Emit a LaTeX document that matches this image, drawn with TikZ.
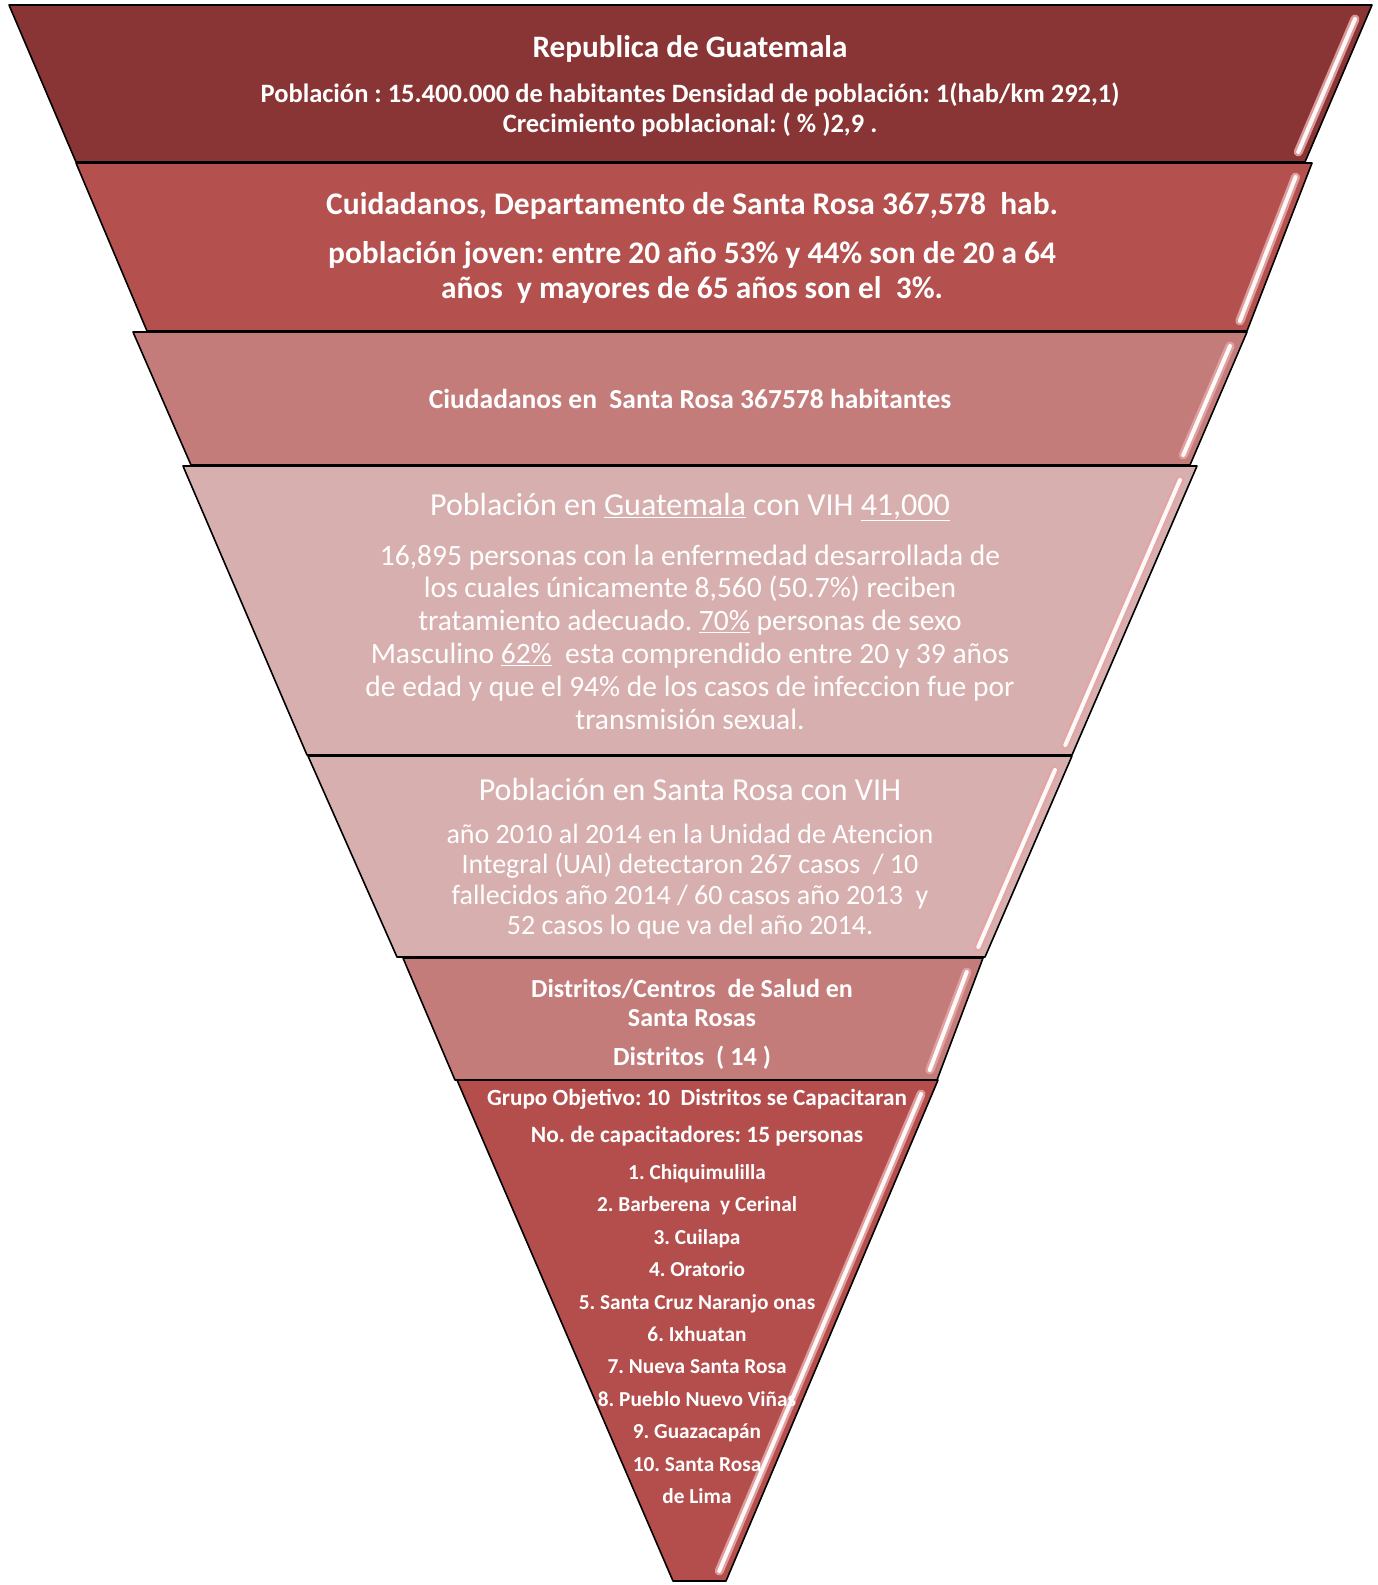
\documentclass[tikz,border=0pt]{standalone}
\usepackage{fontspec}
\setmainfont{Carlito}
\usetikzlibrary{calc}
\definecolor{layA}{HTML}{8A3535}
\definecolor{layB}{HTML}{B4504E}
\definecolor{layC}{HTML}{C47C7B}
\definecolor{layD}{HTML}{D8AFAF}
\definecolor{layF}{HTML}{C47C7B}
\definecolor{layG}{HTML}{B34E4D}
\definecolor{bevelpink}{HTML}{E5A4A4}
\newcommand\ulx[1]{\underline{#1}}
\newcommand\bevel[4]{%
  \pgfmathsetmacro\bvA{14/(#4-#2)}%
  \pgfmathsetmacro\bvB{1-10/(#4-#2)}%
  \draw[bevelout] ($(#1,#2)!\bvA!(#3,#4)+(-11,0)$) -- ($(#1,#2)!\bvB!(#3,#4)+(-11,0)$);
  \draw[bevelin] ($(#1,#2)!\bvA!(#3,#4)+(-11,0)$) -- ($(#1,#2)!\bvB!(#3,#4)+(-11,0)$);
}
\tikzset{
  layer/.style={draw=black, line width=1.6pt, line join=round},
  bevelout/.style={line width=9pt, line cap=round, bevelpink, opacity=0.9},
  bevelin/.style={line width=4pt, line cap=round, white, opacity=0.95},
  txt/.style={text=white, align=center, inner sep=0pt},
}
\frenchspacing
\begin{document}
\frenchspacing
\begin{tikzpicture}[x=1pt,y=-1pt]
\useasboundingbox (0,0) rectangle (1378,1585);
% layers
\draw[layer, fill=layA] (9,5) -- (1372,5) -- (1305,162) -- (76,162) -- cycle;
\bevel{1372}{5}{1305}{162}
\draw[layer, fill=layB] (76,163) -- (1312,163) -- (1247,331) -- (147,331) -- cycle;
\bevel{1312}{163}{1247}{331}
\draw[layer, fill=layC] (133,332) -- (1247,332) -- (1190,465) -- (191,465) -- cycle;
\bevel{1247}{332}{1190}{465}
\draw[layer, fill=layD] (183,466) -- (1197,466) -- (1072,755) -- (307,755) -- cycle;
\bevel{1197}{466}{1072}{755}
\draw[layer, fill=layD] (308,756) -- (1072,756) -- (985,957) -- (397,957) -- cycle;
\bevel{1072}{756}{985}{957}
\draw[layer, fill=layF] (403,958) -- (983,958) -- (937,1080) -- (455,1080) -- cycle;
\bevel{983}{958}{937}{1080}
\draw[layer, fill=layG] (457,1080) -- (938,1080) -- (726,1581) -- (673,1581) -- cycle;
\bevel{938}{1080}{726}{1581}
% texts
\node[txt, font=\bfseries\fontsize{31.2}{36}\selectfont] (t1a) at (690,49) {Republica de Guatemala};
\node[txt, font=\bfseries\fontsize{26.5}{30.3}\selectfont] (t1b) at (690,110)
  {Población : 15.400.000 de habitantes Densidad de población: 1(hab/km 292,1)\\Crecimiento poblacional: ( \% )2,9 .};
\node[txt, font=\bfseries\fontsize{31.5}{35}\selectfont] (t2a) at (692,206) {Cuidadanos, Departamento de Santa Rosa 367,578~ hab.};
\node[txt, font=\bfseries\fontsize{31.4}{35.4}\selectfont] (t2b) at (692,272.5)
  {población joven: entre 20 año 53\% y 44\% son de 20 a 64\\años~ y mayores de 65 años son el~ 3\%.};
\node[txt, font=\bfseries\fontsize{27.5}{30}\selectfont] (t3) at (690,399) {Ciudadanos en~ Santa Rosa 367578 habitantes};
\node[txt, font=\fontsize{32}{36}\selectfont] (t4a) at (690,507) {Población en \ulx{Guatemala} con VIH \ulx{41,000}};
\node[txt, font=\fontsize{29.5}{32.8}\selectfont] (t4b) at (690,637)
  {16,895 personas con la enfermedad desarrollada de\\los cuales únicamente 8,560 (50.7\%) reciben\\tratamiento adecuado. \ulx{70\%} personas de sexo\\Masculino \ulx{62\%}~ esta comprendido entre 20 y 39 años\\de edad y que el 94\% de los casos de infeccion fue por\\transmisión sexual.};
\node[txt, font=\fontsize{32}{35}\selectfont] (t5a) at (690,789) {Población en Santa Rosa con VIH};
\node[txt, font=\fontsize{28}{30.3}\selectfont] (t5b) at (690,881.5)
  {año 2010 al 2014 en la Unidad de Atencion\\Integral (UAI) detectaron 267 casos~ / 10\\fallecidos año 2014 / 60 casos año 2013~ y\\52 casos lo que va del año 2014.};
\node[txt, font=\bfseries\fontsize{26}{29}\selectfont] (t6a) at (692,1002.5) {Distritos/Centros~ de Salud en\\Santa Rosas};
\node[txt, font=\bfseries\fontsize{26.2}{29}\selectfont] (t6b) at (692,1058) {Distritos~ ( 14 )};
\node[txt, font=\bfseries\fontsize{23.2}{25}\selectfont] (t7a) at (697,1099) {Grupo Objetivo: 10~ Distritos se Capacitaran};
\node[txt, font=\bfseries\fontsize{23.4}{25}\selectfont] (t7b) at (697,1136) {No. de capacitadores: 15 personas};
\node[txt, font=\bfseries\fontsize{21.3}{32.4}\selectfont] (t7c) at (697,1334)
  {1. Chiquimulilla\\2. Barberena~ y Cerinal\\3. Cuilapa\\4. Oratorio\\5. Santa Cruz Naranjo onas\\6. Ixhuatan\\7. Nueva Santa Rosa\\8. Pueblo Nuevo Viñas\\9. Guazacapán\\10. Santa Rosa\\de Lima};
\end{tikzpicture}
\end{document}
